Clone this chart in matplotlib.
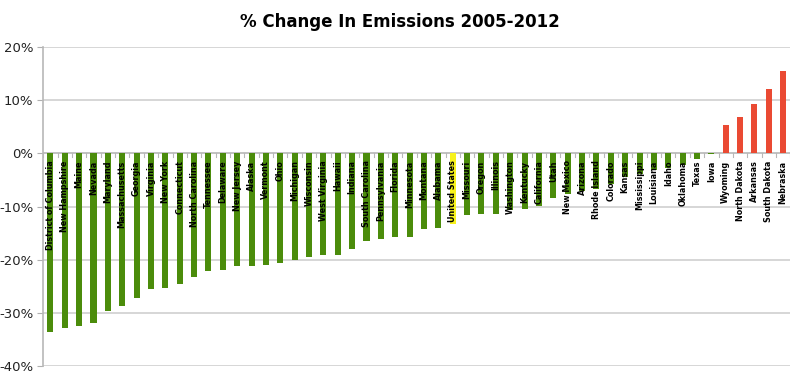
import matplotlib.pyplot as plt
from matplotlib import font_manager
from matplotlib.ticker import FuncFormatter

STATES = [
    'District of Columbia', 'New Hampshire', 'Maine', 'Nevada', 'Maryland',
    'Massachusetts', 'Georgia', 'Virginia', 'New York', 'Connecticut',
    'North Carolina', 'Tennessee', 'Delaware', 'New Jersey', 'Alaska',
    'Vermont', 'Ohio', 'Michigan', 'Wisconsin', 'West Virginia', 'Hawaii',
    'Indiana', 'South Carolina', 'Pennsylvania', 'Florida', 'Minnesota',
    'Montana', 'Alabama', 'United States', 'Missouri', 'Oregon', 'Illinois',
    'Washington', 'Kentucky', 'California', 'Utah', 'New Mexico', 'Arizona',
    'Rhode Island', 'Colorado', 'Kansas', 'Mississippi', 'Louisiana', 'Idaho',
    'Oklahoma', 'Texas', 'Iowa', 'Wyoming', 'North Dakota', 'Arkansas',
    'South Dakota', 'Nebraska',
]
PCT_CHANGE = [
    -33.5, -32.9, -32.4, -31.8, -29.6,
    -28.6, -27.2, -25.5, -25.3, -24.5,
    -23.3, -22.1, -22.0, -21.2, -21.2,
    -21.0, -20.6, -20.1, -19.4, -19.1, -19.1,
    -18.0, -16.4, -16.0, -15.7, -15.7,
    -14.3, -14.1, -13.2, -11.6, -11.3, -11.3,
    -10.7, -10.4, -9.8, -8.4, -7.6, -7.0,
    -6.6, -5.7, -4.4, -3.8, -3.2, -2.8,
    -2.2, -1.1, -0.1, 5.3, 6.9, 9.3,
    12.2, 15.5,
]
HIGHLIGHT = 'United States'

GREEN = '#4b8c0b'
RED = '#ea4a33'
YELLOW = '#f7f21c'

# narrow face if present, else condensed DejaVu
names = {f.name for f in font_manager.fontManager.ttflist}
NARROW = 'Liberation Sans Narrow' if 'Liberation Sans Narrow' in names \
    else 'DejaVu Sans Condensed'
print(NARROW)


def bar_color(name, value):
    if name == HIGHLIGHT:
        return YELLOW
    return RED if value > 0 else GREEN


def main():
    fig = plt.figure(figsize=(8, 3.74), dpi=100)
    ax = fig.add_axes([0.054, 0.021, 0.934, 0.853])

    x = list(range(len(STATES)))
    colors = [bar_color(s, v) for s, v in zip(STATES, PCT_CHANGE)]
    ax.bar(x, PCT_CHANGE, width=0.42, color=colors, zorder=3)

    ax.set_xlim(-0.5, len(STATES) - 0.5)
    ax.set_ylim(-40, 20)
    ax.set_yticks(range(-40, 21, 10))
    ax.yaxis.set_major_formatter(FuncFormatter(lambda v, _: f'{v:.0f}%'))
    ax.tick_params(axis='y', length=4, color='#b0b0b0', labelsize=9.5,
                   labelcolor='#222222', pad=3)
    ax.grid(axis='y', color='#cfcfcf', linewidth=1.2, zorder=0)

    # category ticks on the zero line
    ax.set_xticks([])
    ax.axhline(0, color='#c0c0c0', linewidth=1.2, zorder=2)
    for i in range(len(STATES) + 1):
        ax.plot([i - 0.5, i - 0.5], [0, -0.6], color='#b8b8b8',
                linewidth=0.8, zorder=2)

    # state names under the zero line
    size = 7.0 if NARROW == 'Liberation Sans Narrow' else 5.8
    for i, name in enumerate(STATES):
        ax.text(i, -1.3, name, rotation=90, ha='center', va='top',
                fontsize=size, fontweight='bold', color='black', zorder=4,
                family=NARROW)

    for side in ['top', 'right', 'bottom']:
        ax.spines[side].set_visible(False)
    ax.spines['left'].set_color('#b8b8b8')
    ax.spines['left'].set_linewidth(1.2)

    fig.text(0.5, 0.94, '% Change In Emissions 2005-2012', ha='center',
             va='center', fontsize=14 if NARROW != 'DejaVu Sans Condensed'
             else 12, fontweight='bold', family=NARROW)

    fig.savefig('out.png', dpi=100)
    plt.close(fig)


if __name__ == '__main__':
    main()
